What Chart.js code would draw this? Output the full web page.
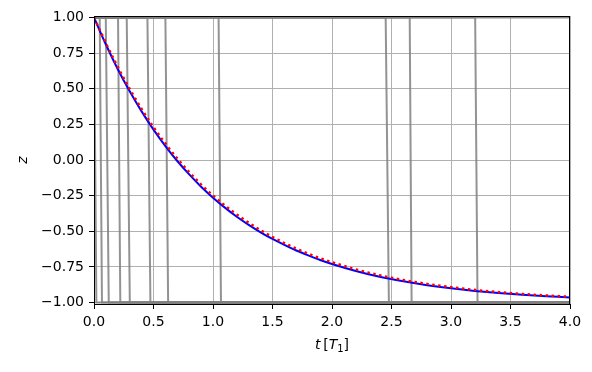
<!DOCTYPE html>
<html>
<head>
<meta charset="utf-8">
<script src="https://cdn.jsdelivr.net/npm/chart.js@4.4.1/dist/chart.umd.min.js"></script>
<style>
  html, body { margin: 0; padding: 0; background: #fff; }
</style>
</head>
<body>
<canvas id="chart" width="592" height="372"></canvas>
<script>
const zeiten = [0, 0.1, 0.2, 0.3, 0.4, 0.5, 0.6, 0.7, 0.8, 0.9, 1.0, 1.1, 1.2, 1.3, 1.4, 1.5, 1.6, 1.7, 1.8, 1.9, 2.0,
  2.2, 2.4, 2.6, 2.8, 3.0, 3.2, 3.4, 3.6, 3.8, 4.0];
const zMittel = [1.0, 0.81, 0.637, 0.482, 0.341, 0.213, 0.098, -0.007, -0.101, -0.187, -0.264, -0.334, -0.398, -0.455,
  -0.507, -0.554, -0.596, -0.635, -0.669, -0.701, -0.729, -0.778, -0.819, -0.851, -0.878, -0.9, -0.918, -0.933,
  -0.945, -0.955, -0.965];
const zTrajMittel = [1.0, 0.82, 0.652, 0.499, 0.358, 0.23, 0.115, 0.01, -0.085, -0.172, -0.249, -0.319, -0.383,
  -0.44, -0.493, -0.54, -0.583, -0.622, -0.657, -0.689, -0.717, -0.767, -0.808, -0.842, -0.869, -0.892, -0.911,
  -0.927, -0.94, -0.95, -0.959];

// Quantensprünge der einzelnen Trajektorien (von z=1 nach z=-1), null = kein Sprung
const sprungStart = [0.0, 0.048, 0.099, 0.202, 0.275, 0.449, 0.600, 1.047, 2.451, 2.653, 3.203, null];
const sprungEnde = [0.02, 0.067, 0.124, 0.221, 0.301, 0.474, 0.623, 1.067, 2.478, 2.669, 3.223, null];
const tEnde = 4.0;

const xTicks = [0, 0.5, 1.0, 1.5, 2.0, 2.5, 3.0, 3.5, 4.0];
const yTicks = [-1.0, -0.75, -0.5, -0.25, 0, 0.25, 0.5, 0.75, 1.0];

const schrift = 'DejaVu Sans';

const datasets = [];

datasets.push({
  label: 'z Trajektorien-Mittel',
  data: zeiten.map((t, i) => ({ x: t, y: zTrajMittel[i] })),
  borderColor: '#ff0000',
  borderWidth: 2.5,
  borderDash: [2.5, 3.5],
  pointRadius: 0,
  cubicInterpolationMode: 'monotone',
  order: 0
});

datasets.push({
  label: 'z',
  data: zeiten.map((t, i) => ({ x: t, y: zMittel[i] })),
  borderColor: '#0000ff',
  borderWidth: 2,
  pointRadius: 0,
  cubicInterpolationMode: 'monotone',
  order: 1
});

sprungStart.forEach((start, i) => {
  let punkte;
  if (start === null) {
    punkte = [{ x: 0, y: 1 }, { x: tEnde, y: 1 }];
  } else {
    punkte = [{ x: 0, y: 1 }, { x: start, y: 1 }, { x: sprungEnde[i], y: -1 }, { x: tEnde, y: -1 }];
  }
  datasets.push({
    label: 'traj ' + i,
    data: punkte,
    borderColor: 'rgba(128,128,128,0.85)',
    borderWidth: 2,
    pointRadius: 0,
    order: 2
  });
});

// Rahmen + x-Achsentitel (mit Subskript)
const rahmenPlugin = {
  id: 'rahmen',
  afterDatasetsDraw(chart) {
    const { ctx, chartArea } = chart;
    ctx.save();
    ctx.strokeStyle = '#000';
    ctx.lineWidth = 1;
    ctx.strokeRect(Math.round(chartArea.left) + 0.5, Math.round(chartArea.top) + 0.5,
      Math.round(chartArea.right - chartArea.left) - 1, Math.round(chartArea.bottom - chartArea.top));
    ctx.restore();
  },
  afterDraw(chart) {
    const { ctx, chartArea } = chart;
    const teile = [
      { text: 't', font: 'italic 14px ' + schrift, dy: 0 },
      { text: '\u2009[', font: '14px ' + schrift, dy: 0 },
      { text: 'T', font: 'italic 14px ' + schrift, dy: 0 },
      { text: '1', font: '10px ' + schrift, dy: 3 },
      { text: ']', font: '14px ' + schrift, dy: 0 }
    ];
    ctx.save();
    ctx.fillStyle = '#000';
    ctx.textBaseline = 'alphabetic';
    let breite = 0;
    teile.forEach(p => { ctx.font = p.font; breite += ctx.measureText(p.text).width; });
    let x = (chartArea.left + chartArea.right) / 2 - breite / 2;
    const y = 349;
    teile.forEach(p => {
      ctx.font = p.font;
      ctx.fillText(p.text, x, y + p.dy);
      x += ctx.measureText(p.text).width;
    });
    ctx.restore();
  }
};

new Chart(document.getElementById('chart'), {
  type: 'line',
  data: { datasets: datasets },
  options: {
    responsive: false,
    animation: false,
    layout: { padding: { left: 0, top: 16, right: 22, bottom: 0 } },
    plugins: {
      legend: { display: false },
      tooltip: { enabled: false }
    },
    scales: {
      x: {
        type: 'linear',
        min: 0,
        max: 4,
        afterBuildTicks: scale => { scale.ticks = xTicks.map(v => ({ value: v })); },
        afterFit: scale => { scale.height = 68; },
        border: { display: false },
        grid: { color: '#b0b0b0', lineWidth: 1, tickColor: '#000', tickLength: 5 },
        ticks: {
          padding: 5,
          color: '#000',
          font: { family: schrift, size: 14 },
          maxRotation: 0,
          callback: v => v.toFixed(1)
        }
      },
      y: {
        type: 'linear',
        min: -1.01,
        max: 1.01,
        afterBuildTicks: scale => { scale.ticks = yTicks.map(v => ({ value: v })); },
        afterFit: scale => { scale.width = 94; },
        border: { display: false },
        grid: { color: '#b0b0b0', lineWidth: 1, tickColor: '#000', tickLength: 5 },
        ticks: {
          padding: 5,
          color: '#000',
          font: { family: schrift, size: 14 },
          callback: v => (v < 0 ? '\u2212' : '') + Math.abs(v).toFixed(2)
        },
        title: {
          display: true,
          text: 'z',
          color: '#000',
          font: { family: schrift, size: 14, style: 'italic' },
          padding: { top: 15, bottom: 0 }
        }
      }
    }
  },
  plugins: [rahmenPlugin]
});
</script>
</body>
</html>
